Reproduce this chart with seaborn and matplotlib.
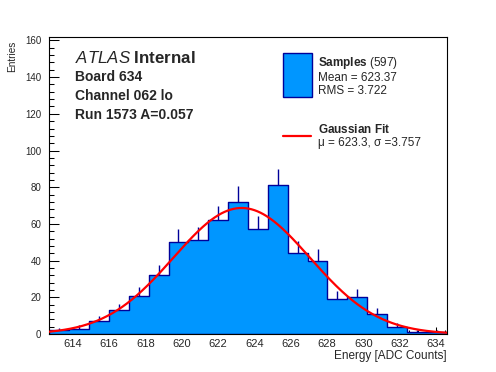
import numpy as np
import pandas as pd
import matplotlib
matplotlib.use("Agg")
import matplotlib.pyplot as plt
import seaborn as sns
from matplotlib.patches import Rectangle
from matplotlib.lines import Line2D
from matplotlib.ticker import MultipleLocator

# Histogram contents (20 bins)
bin_start = 612.7
bin_width = 1.095
counts = [2, 3, 7, 13, 21, 32, 50, 51, 62, 72, 57, 81, 44, 40, 19, 20, 11, 4, 1, 1]

# Summary numbers shown in the legend
n_entries = 597
sample_mean = 623.37
sample_rms = 3.722

# Gaussian fit result
fit_mu = 623.3
fit_sigma = 3.757
fit_peak = 68.7

# Label text
atlas_lines = ["Board 634", "Channel 062 lo", "Run 1573 A=0.057"]

fill_color = "#0096ff"
edge_color = "#000099"

sns.set_theme(style="ticks")
plt.rcParams["font.family"] = ["Liberation Sans", "DejaVu Sans"]
plt.rcParams["mathtext.fontset"] = "custom"
plt.rcParams["mathtext.rm"] = "Liberation Sans"
plt.rcParams["mathtext.it"] = "Liberation Sans:italic"
plt.rcParams["mathtext.bf"] = "Liberation Sans:bold"

edges = bin_start + bin_width * np.arange(len(counts) + 1)
centers = edges[:-1] + bin_width / 2
df = pd.DataFrame({"energy": centers, "entries": counts})

fig = plt.figure(figsize=(4.96, 3.72), dpi=100)
ax = fig.add_axes([0.0994, 0.102, 0.8012, 0.7992])

# sqrt(N) error bars, drawn under the filled histogram so only the top half shows
err = np.sqrt(df["entries"])
ax.vlines(df["energy"], df["entries"] - err, df["entries"] + err,
          color=edge_color, lw=1.0, zorder=1)

sns.histplot(data=df, x="energy", weights="entries", bins=edges.tolist(),
             element="step", fill=True, facecolor=fill_color,
             edgecolor=edge_color, linewidth=1.0, alpha=1, ax=ax, zorder=2)

# Gaussian fit curve
xs = np.linspace(edges[0], edges[-1], 400)
ys = fit_peak * np.exp(-0.5 * ((xs - fit_mu) / fit_sigma) ** 2)
sns.lineplot(x=xs, y=ys, color="red", lw=1.6, ax=ax, zorder=3)

ax.set_xlim(edges[0], edges[-1])
ax.set_ylim(0, 162)
ax.xaxis.set_major_locator(MultipleLocator(2))
ax.xaxis.set_minor_locator(MultipleLocator(0.5))
ax.yaxis.set_major_locator(MultipleLocator(20))
ax.yaxis.set_minor_locator(MultipleLocator(4))

for s in ax.spines.values():
    s.set_visible(True)
    s.set_linewidth(0.8)
    s.set_color("black")

ax.tick_params(axis="x", which="major", direction="in", length=5.3, width=0.75,
               labelsize=8, pad=3.8, top=False, color="black")
ax.tick_params(axis="x", which="minor", direction="in", length=2.8, width=0.75,
               top=False, color="black")
ax.tick_params(axis="y", which="major", direction="in", length=7.2, width=0.75,
               labelsize=7, pad=5.8, right=False, color="black")
ax.tick_params(axis="y", which="minor", direction="in", length=3.6, width=0.75,
               right=False, color="black")

ax.set_xlabel("Energy [ADC Counts]", fontsize=8.5, ha="right", va="top")
ax.xaxis.set_label_coords(1.0, -0.052)
ax.set_ylabel("Entries", fontsize=7.2, ha="right", va="bottom")
ax.yaxis.set_label_coords(-0.081, 0.985)

# ATLAS label block
ax.text(0.0647, 0.9105, r"$\it{ATLAS}$ $\bf{Internal}$", transform=ax.transAxes,
        fontsize=12.2, va="baseline", ha="left")
for line, yb in zip(atlas_lines, [0.852, 0.787, 0.723]):
    ax.text(0.0647, yb, line, transform=ax.transAxes, fontsize=10,
            fontweight="bold", va="baseline", ha="left")

# Legend, laid out ROOT-style by hand
ax.add_patch(Rectangle((0.5888, 0.7982), 0.0715, 0.146, transform=ax.transAxes,
                       facecolor=fill_color, edgecolor=edge_color, lw=1.0,
                       clip_on=False, zorder=4))
ax.add_line(Line2D([0.5888, 0.6585], [0.666, 0.666], transform=ax.transAxes,
                   color="red", lw=1.6, clip_on=False, zorder=4))

legend_rows = [
    (r"$\bf{Samples}$ (%d)" % n_entries, 0.9021),
    ("Mean = %.2f" % sample_mean, 0.850),
    ("RMS = %.3f" % sample_rms, 0.8066),
    (r"$\bf{Gaussian\ Fit}$", 0.6771),
    ("\u03bc = %.1f, \u03c3 =%.3f" % (fit_mu, fit_sigma), 0.631),
]
for txt, yb in legend_rows:
    ax.text(0.6754, yb, txt, transform=ax.transAxes, fontsize=8.5,
            va="baseline", ha="left", zorder=4)

fig.savefig("out.png", dpi=100)
plt.close(fig)
